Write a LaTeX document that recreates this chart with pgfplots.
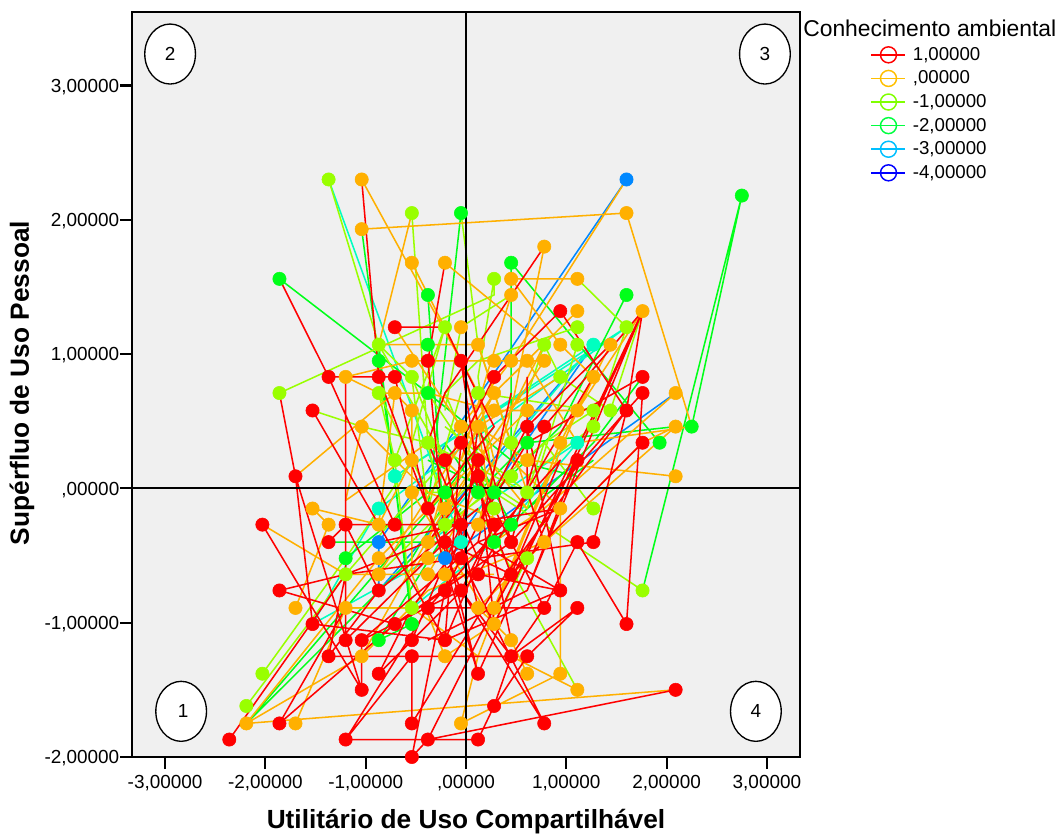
\documentclass[border=0pt]{standalone}
\usepackage{fontspec}
\setmainfont{Liberation Sans}
\usepackage{pgfplots}
\pgfplotsset{compat=1.18}
\definecolor{cred}{HTML}{FF0000}
\definecolor{corange}{HTML}{FFB000}
\definecolor{clime}{HTML}{99FF00}
\definecolor{cgreen}{HTML}{00FF19}
\definecolor{cteal}{HTML}{00FFC0}
\definecolor{cblue}{HTML}{0088FF}
\definecolor{lorange}{HTML}{FFBF00}
\definecolor{llime}{HTML}{80FF00}
\definecolor{lgreen}{HTML}{00FF40}
\definecolor{lteal}{HTML}{00BFFF}
\definecolor{lblue}{HTML}{0000FF}
\pgfplotsset{
 ln/.style={forget plot,no markers,line width=1.15pt,line join=round,unbounded coords=jump,color=#1},
 pt/.style={forget plot,only marks,mark=*,mark size=5pt,color=#1,mark options={draw=none,fill=#1}},
 lgimg/.style={legend image code/.code={\draw[line width=1.1pt,#1] (0pt,0pt)--(25.5pt,0pt);\draw[line width=1.1pt,#1] (12.75pt,0pt) circle (6pt);}}
}
\begin{document}
\begin{tikzpicture}[x=1pt,y=1pt]
\path[use as bounding box] (0,0) rectangle (794.25,626.25);
\begin{axis}[
 at={(99pt,58.5pt)},anchor=south west,
 scale only axis,width=501pt,height=558.75pt,
 xmin=-3.33,xmax=3.33,ymin=-2.0,ymax=3.547,
 axis background/.style={fill=black!6},
 axis line style={line width=1.5pt},
 tick align=outside,xtick pos=left,ytick pos=left,
 major tick length=9pt,
 tick style={black,line width=1.6pt},
 xtick={-3,-2,-1,0,1,2,3},
 ytick={-2,-1,0,1,2,3},
 xticklabels={{-3,00000},{-2,00000},{-1,00000},{,00000},{1,00000},{2,00000},{3,00000}},
 yticklabels={{-2,00000},{-1,00000},{,00000},{1,00000},{2,00000},{3,00000}},
 tick label style={font=\fontsize{14.2}{16}\selectfont},
 xticklabel style={yshift=-1pt},
 yticklabel style={xshift=3pt,yshift=-1pt},
 xlabel={\textbf{Utilitário de Uso Compartilhável}},
 ylabel={\textbf{Supérfluo de Uso Pessoal}},
 label style={font=\fontsize{19.7}{22}\selectfont},
 x label style={at={(axis description cs:0.5,-0.0872)},anchor=center},
 y label style={at={(axis description cs:-0.1647,0.502)},anchor=center},
 legend style={at={(axis description cs:1.1055,0.9546)},anchor=north west,draw=none,fill=none,
   font=\fontsize{14}{16}\selectfont,row sep=4.6pt,inner sep=0pt,
   nodes={inner sep=0.5pt},/tikz/every odd column/.append style={column sep=4.5pt}},
 legend cell align=left,
]
% ---- line traces of each group
\addplot[ln=cblue] coordinates {(2.09,.71)(-.21,-.52)(1.27,1.07)(-.87,-.76)(-.87,-.40)(1.60,2.30)};
\addplot[ln=cteal] coordinates {(-1.37,2.30)(-.05,-.40)(-1.53,-1.01)(-.87,-.15)(1.60,1.20)(-.71,.09)(1.27,1.07)(-.38,-.40)(1.11,.34)(.28,-.40)(-.54,-.89)};
\addplot[ln=cgreen] coordinates {
(1.76,-.76)(2.75,2.18)(2.25,.46)(nan,nan)
(-1.86,1.56)(-.38,.71)(.45,.21)(1.11,.09)(nan,nan)
(-1.04,1.93)(-.87,.95)(-.54,-.89)(nan,nan)
(-.87,1.07)(-.54,-1.01)(-.87,-1.13)(-.05,-.15)(nan,nan)
(-.05,2.05)(-.38,-.15)(-.21,-.03)(nan,nan)
(-.38,1.44)(-.21,-.40)(-1.37,-.40)(nan,nan)
(.45,1.68)(1.93,.34)(nan,nan)
(.45,1.68)(.45,.21)(nan,nan)
(2.09,.46)(.61,.34)(.12,-.03)(-.21,.34)(nan,nan)
(1.60,1.44)(.94,.46)(.28,-.03)(-.38,.21)(nan,nan)
(1.76,.83)(1.27,.34)(.45,-.27)(.12,.21)(nan,nan)
(-2.19,-1.75)(-.21,-.03)(.28,.46)(nan,nan)
(-1.20,-.52)(-.38,-.03)(nan,nan)
(.28,-.40)(.61,-.15)(1.27,.21)(nan,nan)
(-2.19,-1.75)(-.54,-.52)(-.05,.09)
};
\addplot[ln=clime] coordinates {
(-1.37,2.30)(-.87,1.07)(-.54,.83)(-.38,-.15)(-.05,.71)(nan,nan)
(-.54,2.05)(-.38,.34)(-.21,-.27)(.45,.09)(nan,nan)
(-1.86,.71)(.28,1.44)(.28,1.56)(.12,.83)(.28,-.03)(nan,nan)
(-1.53,.58)(-1.04,.46)(-.38,.34)(-.05,.21)(.61,-.03)(nan,nan)
(-1.20,-.89)(-.54,-.89)(-.71,.21)(-.21,1.20)(-.54,.34)(nan,nan)
(-2.19,-1.62)(-1.20,-.64)(-.21,.21)(-.54,.83)(nan,nan)
(-2.03,-1.38)(-1.20,-.52)(-.54,.21)(nan,nan)
(1.11,1.56)(1.60,1.20)(1.27,.46)(.61,.09)(nan,nan)
(1.76,1.32)(1.44,.58)(.94,.83)(.78,1.07)(.45,.34)(nan,nan)
(.12,.71)(1.27,.58)(.78,.34)(-.38,-.40)(nan,nan)
(.45,1.44)(-.05,1.20)(-.21,.58)(nan,nan)
(1.11,1.20)(.12,.95)(-.21,.71)(.28,-.15)(nan,nan)
(-.05,2.05)(.12,1.07)(.45,.34)(nan,nan)
(1.27,-.15)(.78,.34)(.61,-.03)(-.21,.46)(nan,nan)
(1.76,-.76)(.78,-.27)(.28,-.03)(-.38,.71)(nan,nan)
(1.11,-1.50)(.12,-.15)(nan,nan)
(.61,-.52)(.28,-1.01)(nan,nan)
(1.11,1.07)(.61,-.15)(.12,.09)(-.87,-.64)(nan,nan)
(-.71,.21)(-.87,.71)(-.38,-.03)(-.21,-.03)(nan,nan)
(-.87,1.07)(-.21,.21)(-.05,-.40)
};
\addplot[ln=corange] coordinates {
(-1.04,1.93)(1.60,2.05)(2.25,.46)(1.11,.34)(nan,nan)
(-1.04,2.30)(-.05,.95)(.12,.46)(.28,-.27)(nan,nan)
(-.54,2.05)(-.87,1.07)(.12,1.07)(.61,-.03)(nan,nan)
(-.54,1.68)(.12,.71)(.28,.21)(-.38,-.64)(nan,nan)
(-.21,1.68)(.78,1.07)(.45,.58)(-.21,-.15)(nan,nan)
(-1.20,.83)(-.54,.95)(-.05,.95)(.28,.95)(.78,.95)(.12,.21)(-.54,-.64)(nan,nan)
(-1.20,.83)(-.87,.71)(-.38,.71)(.28,.58)(1.11,.58)(1.44,1.07)(nan,nan)
(-.71,1.20)(-.05,.46)(.61,-.15)(nan,nan)
(-1.70,.09)(-.71,.71)(-.87,-.27)(-1.53,-.15)(-1.37,-.27)(-1.70,-.89)(nan,nan)
(-1.04,.46)(-1.20,-.09)(-.38,.34)(-.05,.09)(nan,nan)
(-1.04,.46)(-.38,-.03)(.45,-.27)(nan,nan)
(-2.03,-.27)(-1.20,-.64)(-.87,-.64)(-.38,-.64)(-.21,-.64)(.28,-.64)(nan,nan)
(-2.19,-1.75)(2.09,-1.50)(nan,nan)
(-2.19,-1.75)(-1.04,-1.25)(-.38,-.76)(.78,-.40)(2.09,.46)(1.76,.34)(.61,-.52)(nan,nan)
(-1.70,-1.75)(-1.20,-.89)(-.54,-.89)(.12,-1.25)(nan,nan)
(-2.19,-1.75)(-.87,-.52)(.61,.58)(nan,nan)
(-.05,-1.75)(.12,-1.25)(.94,.34)(nan,nan)
(-.05,-1.75)(.94,-1.38)(.94,-.15)(.45,.21)(nan,nan)
(1.11,-1.50)(.45,-1.25)(-.05,-1.25)(nan,nan)
(.61,-1.38)(.45,-1.13)(.12,-.89)(.78,-.40)(nan,nan)
(2.09,.09)(.61,.21)(.12,.46)(.94,.83)(nan,nan)
(2.09,.71)(.78,-.15)(-.21,-.64)(nan,nan)
(1.11,1.56)(.45,1.56)(.94,1.07)(1.27,.83)(.94,.34)(.28,-.89)(nan,nan)
(.78,1.80)(.45,.58)(.12,-.27)(nan,nan)
(1.60,2.30)(.45,.95)(-.05,.46)(-.38,-.40)(nan,nan)
(.45,1.44)(-.05,.21)(.28,.71)(.61,.95)(1.11,.34)(nan,nan)
(1.76,1.32)(1.11,.58)(.28,-.89)(nan,nan)
(1.11,1.32)(.28,.71)(-.87,-.64)(nan,nan)
(-.21,-1.25)(.28,-1.01)(-.54,-.03)(-.54,.58)(-.71,.71)(nan,nan)
(-.87,-.27)(-.54,.21)(-.54,-.64)(-.21,-1.25)(nan,nan)
(-1.04,-1.25)(-.21,-.15)(.12,.46)
};
\addplot[ln=cred] coordinates {
(-1.04,2.30)(-.87,.83)(-.38,-.15)(.12,-1.38)(1.76,1.32)(.28,-1.01)(.12,.21)(nan,nan)
(-1.86,1.56)(-1.37,.83)(-.71,.83)(-.38,-.15)(-.05,-.76)(.45,-1.25)(1.11,-.89)(.61,-1.25)(.28,-1.62)(.12,-1.87)(-1.20,-1.87)(-.54,-1.25)(-.54,-1.75)(.28,-.76)(1.60,.58)(nan,nan)
(-.38,-1.87)(2.09,-1.50)(nan,nan)
(-1.37,.83)(-.71,-.27)(-1.20,-.27)(-.05,-.27)(.94,-.15)(.12,-.40)(.94,-.76)(.61,.46)(1.44,1.07)(nan,nan)
(-.71,1.20)(-.21,1.20)(-.05,.95)(.45,-.40)(.78,.46)(1.76,1.32)(1.60,.58)(1.27,-.40)(.12,-.52)(nan,nan)
(-.21,1.68)(-.38,.95)(-.21,-.40)(.12,-1.38)(nan,nan)
(-1.86,.71)(-1.70,.09)(-1.53,-1.01)(-.21,-1.13)(.28,-.27)(nan,nan)
(-1.70,.09)(-1.04,-1.50)(-1.04,-1.13)(.12,-.40)(.45,.71)(nan,nan)
(-1.53,.58)(-.87,-.27)(-.21,-1.13)(-.05,.34)(-.21,.21)(.12,-.89)(nan,nan)
(-1.20,.83)(-1.20,-1.13)(-.21,-.40)(.45,-.64)(1.76,.34)(nan,nan)
(-2.03,-.27)(-1.04,-1.50)(nan,nan)
(-.05,-.52)(-1.20,-.64)(-1.86,-.76)(-.71,-1.01)(.45,-.40)(1.60,.58)(nan,nan)
(-1.37,-.40)(-1.20,-.27)(-.87,-.76)(-1.37,-1.25)(-.54,-1.25)(.45,-1.25)(nan,nan)
(-1.37,-1.25)(-1.20,-.64)(nan,nan)
(-2.36,-1.87)(-1.20,-.64)(-.38,-.40)(.12,.09)(nan,nan)
(-1.20,-.89)(-1.86,-1.75)(-.71,-1.01)(-.21,-.76)(.61,.46)(nan,nan)
(-1.20,-1.87)(-.38,-.89)(.78,-.89)(.45,-.40)(.12,.09)(nan,nan)
(-.87,-1.38)(-.54,-.89)(-.05,-.40)(nan,nan)
(-.38,-1.87)(-.54,-2.00)(-.21,-.76)(.12,.21)(nan,nan)
(-.38,-1.87)(.28,-.89)(1.11,.21)(nan,nan)
(.78,-1.75)(-.05,-.52)(.12,.46)(nan,nan)
(.78,-1.75)(-.05,-.76)(.28,-.27)(nan,nan)
(.45,-1.25)(.28,-1.62)(nan,nan)
(.45,-1.25)(.78,-.89)(nan,nan)
(1.60,-1.01)(1.11,-.40)(.78,-.89)(nan,nan)
(1.60,-1.01)(1.76,.71)(1.60,.58)(.94,1.32)(.28,.83)(-.05,.34)(.45,-.64)(nan,nan)
(1.76,.83)(.61,.34)(.12,-.27)(nan,nan)
(.78,1.80)(-.21,.71)(-.38,.34)(.12,-.52)(nan,nan)
(.61,.83)(.61,-.03)(.78,-.40)(nan,nan)
(1.76,1.32)(.61,-.76)(-.38,-1.13)(nan,nan)
(1.27,.83)(.12,-.64)(nan,nan)
(-.38,-.15)(.28,.46)(-.05,.95)(.12,.09)(.45,-1.13)(nan,nan)
(-.87,-.76)(.12,-.15)(nan,nan)
(-.54,-1.13)(-.05,-.27)(-.87,-.40)(nan,nan)
(-.21,-1.13)(.94,-.76)(.12,-.64)(-.87,-1.38)(nan,nan)
(-1.04,-1.13)(-.05,-.76)(nan,nan)
(.45,-.64)(.94,.21)(-.38,-.89)(nan,nan)
(1.11,.21)(.61,-.76)
};
% ---- reference lines at zero
\addplot[forget plot,no markers,black,line width=1.5pt] coordinates {(0,-2.0)(0,3.547)};
\addplot[forget plot,no markers,black,line width=1.5pt] coordinates {(-3.33,0)(3.33,0)};
% ---- points of each group
\addplot[pt=cred] coordinates {(-.71,1.20)(-.38,.95)(-.05,.95)(-1.37,.83)(-.87,.83)(-.71,.83)(-1.53,.58)(-.05,.34)(-.21,.21)(-1.70,.09)(.94,1.32)(.28,.83)(1.76,.83)(1.76,.71)(.61,.46)(.78,.46)(1.60,.58)(1.76,.34)(.12,.21)(1.11,.21)(.12,.09)(-.38,-.15)(-1.20,-.27)(-.71,-.27)(-.05,-.27)(-2.03,-.27)(.28,-.27)(-1.37,-.40)(-.21,-.40)(.45,-.40)(1.11,-.40)(1.27,-.40)(-.05,-.52)(.12,-.64)(.45,-.64)(-1.86,-.76)(-.87,-.76)(-.21,-.76)(-.05,-.76)(.94,-.76)(-.38,-.89)(.78,-.89)(1.11,-.89)(-1.53,-1.01)(-.71,-1.01)(1.60,-1.01)(-1.20,-1.13)(-1.04,-1.13)(-.54,-1.13)(-.21,-1.13)(-1.37,-1.25)(-.54,-1.25)(.45,-1.25)(.61,-1.25)(.12,-1.38)(-.87,-1.38)(-1.04,-1.50)(2.09,-1.50)(.28,-1.62)(-1.86,-1.75)(-.54,-1.75)(.78,-1.75)(-2.36,-1.87)(-1.20,-1.87)(-.38,-1.87)(.12,-1.87)(-.54,-2.00)};
\addplot[pt=corange] coordinates {(-1.04,2.30)(-1.04,1.93)(1.60,2.05)(-.54,1.68)(-.21,1.68)(.78,1.80)(.45,1.56)(1.11,1.56)(.45,1.44)(1.11,1.32)(1.76,1.32)(-.05,1.20)(.12,1.07)(.94,1.07)(1.44,1.07)(-.54,.95)(.28,.95)(.45,.95)(.61,.95)(.78,.95)(-1.20,.83)(1.27,.83)(-.71,.71)(.28,.71)(2.09,.71)(-.54,.58)(.28,.58)(.61,.58)(1.11,.58)(-1.04,.46)(-.05,.46)(.12,.46)(2.09,.46)(-.54,.21)(.94,.34)(.61,.21)(2.09,.09)(-.54,-.03)(-1.53,-.15)(-.21,-.15)(.94,-.15)(-1.37,-.27)(-.87,-.27)(.12,-.27)(-.38,-.40)(.78,-.40)(-.87,-.52)(-.38,-.52)(-.87,-.64)(-.38,-.64)(-.21,-.64)(-1.70,-.89)(-1.20,-.89)(.12,-.89)(.28,-.89)(.28,-1.01)(.45,-1.13)(-1.04,-1.25)(-.21,-1.25)(.61,-1.38)(.94,-1.38)(1.11,-1.50)(-2.19,-1.75)(-1.70,-1.75)(-.05,-1.75)};
\addplot[pt=clime] coordinates {(-1.37,2.30)(-.54,2.05)(.28,1.56)(-.21,1.20)(1.11,1.20)(1.60,1.20)(-.87,1.07)(.78,1.07)(1.11,1.07)(-.54,.83)(.94,.83)(-1.86,.71)(-.87,.71)(.12,.71)(1.27,.58)(1.44,.58)(1.27,.46)(-.38,.34)(.45,.34)(-.71,.21)(.45,.09)(.61,-.03)(.28,-.15)(1.27,-.15)(-.21,-.27)(.61,-.52)(-1.20,-.64)(1.76,-.76)(-.54,-.89)(-2.03,-1.38)(-2.19,-1.62)};
\addplot[pt=cgreen] coordinates {(-.05,2.05)(2.75,2.18)(.45,1.68)(-1.86,1.56)(-.38,1.44)(1.60,1.44)(-.38,1.07)(-.87,.95)(-.38,.71)(2.25,.46)(.61,.34)(1.93,.34)(-.21,-.03)(.12,-.03)(.28,-.03)(.45,-.27)(.28,-.40)(-1.20,-.52)(-.54,-1.01)(-.87,-1.13)};
\addplot[pt=cteal] coordinates {(1.27,1.07)(1.11,.34)(-.71,.09)(-.87,-.15)(-.05,-.40)};
\addplot[pt=cblue] coordinates {(1.60,2.30)(-.87,-.40)(-.21,-.52)};
% ---- quadrant numbers
\draw[line width=1pt,fill=white] (axis cs:-2.95,3.234) ellipse [x radius=19pt,y radius=22.5pt];
\node[font=\fontsize{14.2}{16}\selectfont] at (axis cs:-2.95,3.234) {2};
\draw[line width=1pt,fill=white] (axis cs:2.98,3.234) ellipse [x radius=19pt,y radius=22.5pt];
\node[font=\fontsize{14.2}{16}\selectfont] at (axis cs:2.98,3.234) {3};
\draw[line width=1pt,fill=white] (axis cs:-2.84,-1.66) ellipse [x radius=19pt,y radius=22.5pt];
\node[font=\fontsize{14.2}{16}\selectfont] at (axis cs:-2.82,-1.66) {1};
\draw[line width=1pt,fill=white] (axis cs:2.89,-1.66) ellipse [x radius=19pt,y radius=22.5pt];
\node[font=\fontsize{14.2}{16}\selectfont] at (axis cs:2.89,-1.66) {4};
% ---- legend
\addlegendimage{lgimg=cred}\addlegendentry{1,00000}
\addlegendimage{lgimg=lorange}\addlegendentry{,00000}
\addlegendimage{lgimg=llime}\addlegendentry{-1,00000}
\addlegendimage{lgimg=lgreen}\addlegendentry{-2,00000}
\addlegendimage{lgimg=lteal}\addlegendentry{-3,00000}
\addlegendimage{lgimg=lblue}\addlegendentry{-4,00000}
\end{axis}
\node[anchor=west,inner sep=0pt,font=\fontsize{17.15}{20}\selectfont] at (602.25,605.25) {Conhecimento ambiental};
\end{tikzpicture}
\end{document}
